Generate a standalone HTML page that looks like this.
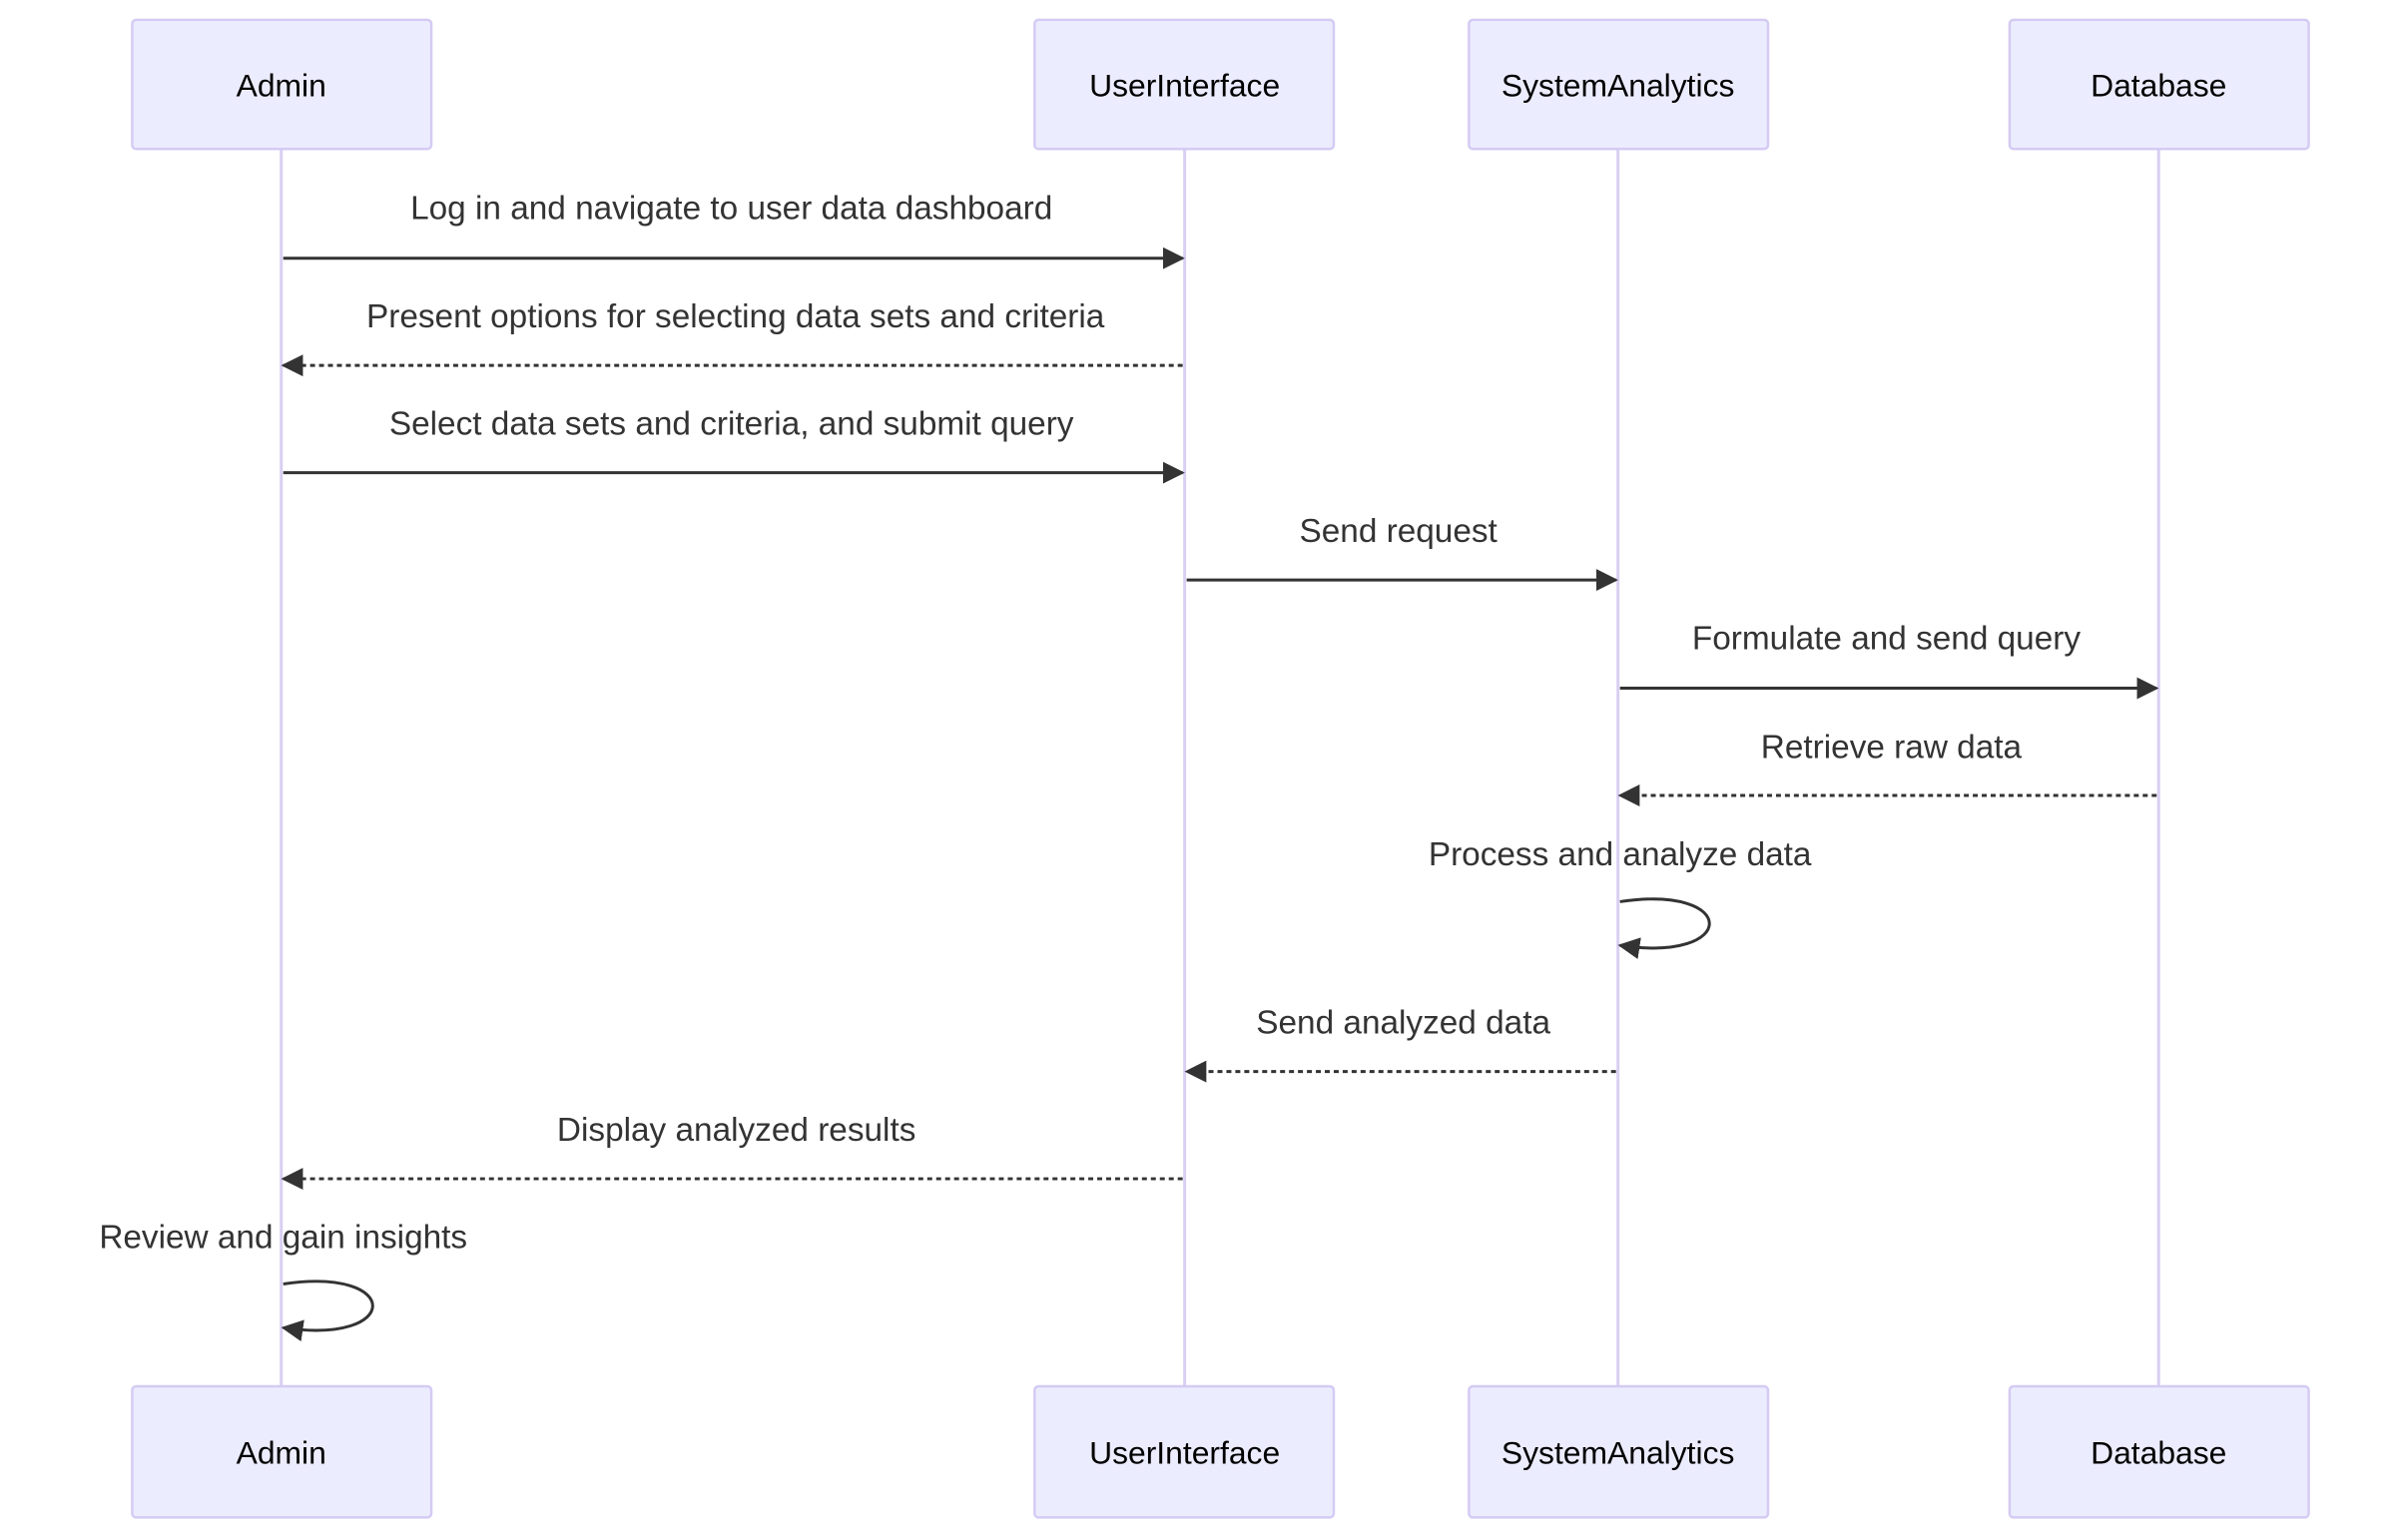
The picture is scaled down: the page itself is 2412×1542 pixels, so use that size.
<!DOCTYPE html>
<html><head><meta charset="utf-8"><style>
html,body{margin:0;padding:0;background:#fff;}
svg{display:block;}
text{font-family:"Liberation Sans",sans-serif;}
</style></head><body>
<svg width="2412" height="1542" viewBox="0 0 2412 1542" xmlns="http://www.w3.org/2000/svg">
<defs>
<marker id="ah2" viewBox="0 0 20 20" refX="18" refY="10" markerWidth="22" markerHeight="22" orient="auto" markerUnits="userSpaceOnUse">
<path d="M0,0 L20,10 L0,20 z" fill="#333"/>
</marker>
</defs>
<g transform="scale(0.9955 0.995)">
<g stroke="#d8cff3" stroke-width="3">
<line x1="283" y1="150" x2="283" y2="1396"/>
<line x1="1192" y1="150" x2="1192" y2="1396"/>
<line x1="1628" y1="150" x2="1628" y2="1396"/>
<line x1="2172" y1="150" x2="2172" y2="1396"/>
</g>
<g fill="#ECECFF" stroke="#d5cbf3" stroke-width="2.5">
<rect x="133" y="20" width="301" height="130" rx="4"/>
<rect x="1041" y="20" width="301" height="130" rx="4"/>
<rect x="1478" y="20" width="301" height="130" rx="4"/>
<rect x="2022" y="20" width="301" height="130" rx="4"/>
<rect x="133" y="1396" width="301" height="132" rx="4"/>
<rect x="1041" y="1396" width="301" height="132" rx="4"/>
<rect x="1478" y="1396" width="301" height="132" rx="4"/>
<rect x="2022" y="1396" width="301" height="132" rx="4"/>
</g>
<g font-size="32" fill="#000" text-anchor="middle" dominant-baseline="central">
<text x="283" y="86">Admin</text>
<text x="1192" y="86">UserInterface</text>
<text x="1628" y="86">SystemAnalytics</text>
<text x="2172" y="86">Database</text>
<text x="283" y="1463">Admin</text>
<text x="1192" y="1463">UserInterface</text>
<text x="1628" y="1463">SystemAnalytics</text>
<text x="2172" y="1463">Database</text>
</g>
<g font-size="33.5" fill="#333" text-anchor="middle" dominant-baseline="central">
<text x="736" y="210">Log in and navigate to user data dashboard</text>
<text x="740" y="319">Present options for selecting data sets and criteria</text>
<text x="736" y="427">Select data sets and criteria, and submit query</text>
<text x="1407" y="535">Send request</text>
<text x="1898" y="643">Formulate and send query</text>
<text x="1903" y="753">Retrieve raw data</text>
<text x="1630" y="861">Process and analyze data</text>
<text x="1412" y="1030">Send analyzed data</text>
<text x="741" y="1138">Display analyzed results</text>
<text x="285" y="1246">Review and gain insights</text>
</g>
<g stroke="#333" stroke-width="3" fill="none" marker-end="url(#ah2)">
<line x1="285" y1="260" x2="1190" y2="260"/>
<line x1="1190" y1="368" x2="285" y2="368" stroke-dasharray="5,4"/>
<line x1="285" y1="476" x2="1190" y2="476"/>
<line x1="1194" y1="584" x2="1626" y2="584"/>
<line x1="1630" y1="693" x2="2170" y2="693"/>
<line x1="2170" y1="801" x2="1630" y2="801" stroke-dasharray="5,4"/>
<path d="M1630,908 C1750,890 1750,970 1630,952"/>
<line x1="1626" y1="1079" x2="1194" y2="1079" stroke-dasharray="5,4"/>
<line x1="1190" y1="1187" x2="285" y2="1187" stroke-dasharray="5,4"/>
<path d="M285,1293 C405,1275 405,1355 285,1337"/>
</g>
</g>
</svg>
</body></html>
